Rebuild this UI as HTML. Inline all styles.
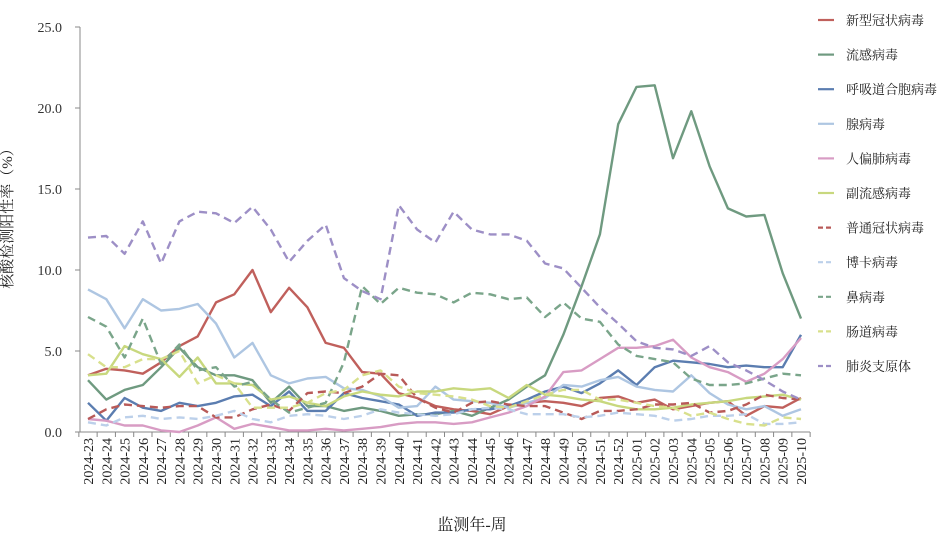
<!DOCTYPE html>
<html><head><meta charset="utf-8"><style>
body{margin:0;background:#fff;}
svg{display:block;font-family:"Liberation Serif","Noto Serif CJK SC",serif;}
</style></head><body>
<svg id="c" width="952" height="536" xmlns="http://www.w3.org/2000/svg"></svg>
<script>
const S=document.getElementById('c');
const NS='http://www.w3.org/2000/svg';
function el(t,a,txt){const e=document.createElementNS(NS,t);for(const k in a)e.setAttribute(k,a[k]);if(txt!==undefined)e.textContent=txt;S.appendChild(e);return e;}
const X0=88,DX=(801-88)/39,Y0=432,K=16.2;
const fix=a=>{a=a.slice(0,40);while(a.length<40)a.push(a[a.length-1]);return a;};
const series=[
["新型冠状病毒","#c0605c",0,[3.5,3.9,3.8,3.6,4.3,5.3,5.9,8.0,8.5,10.0,7.4,8.9,7.7,5.5,5.2,3.7,3.6,2.4,2.1,1.6,1.4,1.3,1.1,1.6,1.8,1.9,1.8,1.6,2.1,2.2,1.8,2.0,1.4,1.6,1.8,1.9,1.0,1.6,1.5,2.1]],
["流感病毒","#6f9a80",0,[3.2,2.0,2.6,2.9,4.0,5.2,4.0,3.5,3.5,3.2,1.8,2.8,1.6,1.6,1.3,1.5,1.3,1.0,1.1,1.1,1.3,1.0,1.5,2.0,2.8,3.5,6.0,9.0,12.2,19.0,21.3,21.4,16.9,19.8,16.4,13.8,13.3,13.4,9.8,7.0]],
["呼吸道合胞病毒","#5b7db0",0,[1.8,0.7,2.1,1.5,1.3,1.8,1.6,1.8,2.2,2.3,1.6,2.5,1.3,1.3,2.4,2.1,1.9,1.7,1.0,1.2,1.2,1.4,1.4,1.6,2.0,2.5,2.8,2.4,3.0,3.8,2.9,4.0,4.4,4.3,4.2,4.0,4.1,4.0,4.0,6.0]],
["腺病毒","#aec6e2",0,[8.8,8.2,6.4,8.2,7.5,7.6,7.9,6.7,4.6,5.5,3.5,3.0,3.3,3.4,2.7,2.6,2.2,1.5,1.6,2.8,2.0,1.9,1.8,1.5,1.8,2.1,2.9,2.8,3.2,3.4,2.8,2.6,2.5,3.5,2.4,1.7,1.4,1.6,1.0,1.4]],
["人偏肺病毒","#d89cc4",0,[0.8,0.7,0.4,0.4,0.1,0.0,0.4,0.9,0.2,0.5,0.3,0.1,0.1,0.2,0.1,0.2,0.3,0.5,0.6,0.6,0.5,0.6,0.9,1.2,1.6,2.2,3.7,3.8,4.5,5.2,5.2,5.3,5.7,4.6,4.0,3.7,3.1,3.6,4.5,5.8]],
["副流感病毒","#c8d87e",0,[3.5,3.6,5.3,4.8,4.5,3.4,4.6,3.0,3.0,2.9,2.0,2.2,1.8,1.6,2.2,2.5,2.3,2.2,2.5,2.5,2.7,2.6,2.7,2.1,2.9,2.3,2.2,2.0,1.9,1.6,1.4,1.4,1.5,1.7,1.8,1.9,2.1,2.2,2.3,2.0]],
["普通冠状病毒","#b85a58",1,[0.8,1.4,1.7,1.6,1.5,1.6,1.6,0.9,0.9,1.4,1.7,1.3,2.4,2.5,2.4,2.8,3.6,3.5,2.1,1.5,1.2,1.8,1.9,1.7,1.6,1.6,1.2,0.8,1.3,1.3,1.4,1.7,1.7,1.8,1.2,1.3,1.7,2.3,2.1,2.0]],
["博卡病毒","#bcd0ea",1,[0.6,0.4,0.9,1.0,0.8,0.9,0.8,1.0,1.3,0.8,0.6,1.0,1.1,1.0,0.8,1.0,1.4,1.2,1.1,1.0,1.1,1.4,1.5,1.4,1.1,1.1,1.1,0.9,1.0,1.2,1.1,1.0,0.7,0.8,1.0,1.0,1.1,0.5,0.5,0.6]],
["鼻病毒","#7aa58a",1,[7.1,6.5,4.6,7.0,4.2,5.4,3.8,4.0,2.8,3.1,2.0,1.2,1.5,1.8,4.3,9.0,7.9,8.9,8.6,8.5,8.0,8.6,8.5,8.2,8.3,7.1,8.0,7.0,6.8,5.4,4.7,4.5,4.3,3.3,2.9,2.9,3.0,3.3,3.6,3.5]],
["肠道病毒","#d8e08c",1,[4.8,4.0,4.0,4.5,4.5,5.0,3.0,3.5,3.0,1.5,1.5,1.5,1.8,2.4,2.6,3.5,3.8,2.8,2.4,2.3,2.2,2.0,1.6,1.5,1.9,2.3,2.6,2.6,2.0,2.0,1.8,1.6,1.5,1.0,1.2,0.8,0.5,0.4,0.9,0.8]],
["肺炎支原体","#9d8fc6",1,[12.0,12.1,11.0,13.0,10.4,13.0,13.6,13.5,12.9,13.9,12.5,10.5,11.8,12.8,9.5,8.7,8.2,14.0,12.5,11.7,13.6,12.5,12.2,12.2,11.8,10.4,10.1,8.9,7.7,6.7,5.6,5.2,5.1,4.7,5.3,4.3,3.8,3.2,2.5,2.0]]
];
el('line',{x1:80,y1:27,x2:80,y2:432,stroke:'#888','stroke-width':1});
el('line',{x1:80,y1:432,x2:810,y2:432,stroke:'#888','stroke-width':1});
for(let v=0;v<=25;v+=5){const y=Y0-v*K;
 el('line',{x1:75,y1:y,x2:80,y2:y,stroke:'#888'});
 el('text',{x:62,y:y+5,'text-anchor':'end','font-size':14,fill:'#333'},v.toFixed(1));}
const labs=[];for(let w=23;w<=52;w++)labs.push('2024-'+w);for(let w=1;w<=10;w++)labs.push('2025-'+(w<10?'0'+w:w));
for(let i=0;i<=40;i++){const x=X0-DX/2+i*DX;el('line',{x1:x,y1:432,x2:x,y2:437,stroke:'#888'});}
labs.forEach((l,i)=>{const x=X0+i*DX;el('text',{x:0,y:0,transform:`translate(${x+5},${438}) rotate(-90)`,'text-anchor':'end','font-size':14,fill:'#222'},l);});
series.forEach(s=>{const d=fix(s[3]);const pts=d.map((v,i)=>(X0+i*DX).toFixed(1)+','+(Y0-v*K).toFixed(1)).join(' ');
 const a={points:pts,fill:'none',stroke:s[1],'stroke-width':2.4,'stroke-linejoin':'round'};if(s[2])a['stroke-dasharray']='8,5';el('polyline',a);});
series.forEach((s,i)=>{const y=20+i*34.6;const a={x1:818,y1:y,x2:834,y2:y,stroke:s[1],'stroke-width':2.2};if(s[2])a['stroke-dasharray']='5,3';el('line',a);
 el('text',{x:846,y:y+5,'font-size':13,fill:'#222'},s[0]);});
el('text',{x:0,y:0,transform:'translate(12,215) rotate(-90)','text-anchor':'middle','font-size':15,fill:'#222'},'核酸检测阳性率（%）');
el('text',{x:472,y:530,'text-anchor':'middle','font-size':16,fill:'#222'},'监测年-周');
</script>
</body></html>
